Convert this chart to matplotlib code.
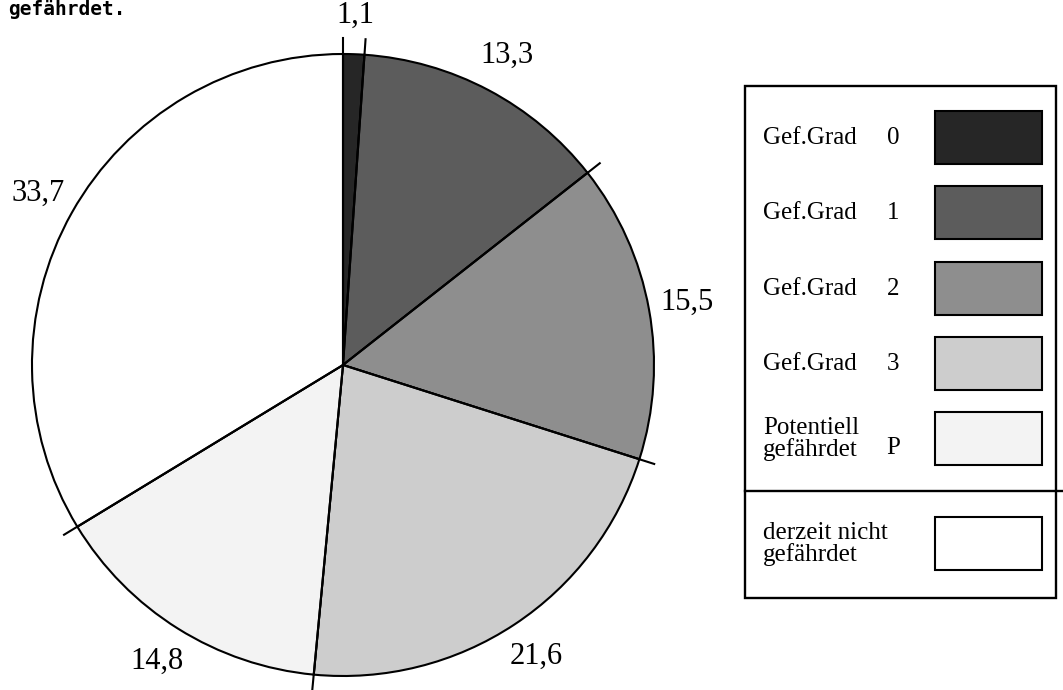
import matplotlib.pyplot as plt
from matplotlib.patches import Rectangle
import numpy as np

# shares in percent, clockwise from 12 o'clock
values = [1.1, 13.3, 15.5, 21.6, 14.8, 33.7]
value_labels = ['1,1', '13,3', '15,5', '21,6', '14,8', '33,7']
colors = ['#262626', '#5c5c5c', '#8e8e8e', '#cdcdcd', '#f3f3f3', '#ffffff']

legend_names = ['Gef.Grad', 'Gef.Grad', 'Gef.Grad', 'Gef.Grad',
                'Potentiell\ngefährdet', 'derzeit nicht\ngefährdet']
legend_codes = ['0', '1', '2', '3', 'P', '']

serif = ['Liberation Serif', 'DejaVu Serif']

fig = plt.figure(figsize=(10.63, 6.9), dpi=100)
ax = fig.add_axes([0, 0, 1, 1])

cx, cy, r = 343, 365, 311

# y axis points down, so data-CCW shows as clockwise
wedges, texts = ax.pie(values, colors=colors, labels=value_labels, center=(cx, cy), radius=r,
                       startangle=-90, counterclock=True, labeldistance=1.125,
                       wedgeprops={'edgecolor': 'black', 'linewidth': 1.5},
                       textprops={'fontsize': 22, 'family': serif})
for t in texts:
    t.set_ha('center')
    t.set_va('center')
ax.set_xlim(0, 1063)
ax.set_ylim(690, 0)
ax.set_aspect('equal')
ax.axis('off')

# boundary lines run a bit past the rim
cum = np.concatenate([[0], np.cumsum(values)])
for c in cum[:-1]:
    a = np.deg2rad(-90 + c * 3.6)
    ax.plot([cx, cx + 1.05 * r * np.cos(a)], [cy, cy + 1.05 * r * np.sin(a)],
            color='black', lw=1.5)

# legend box
ax.add_patch(Rectangle((745, 86), 311, 512, fill=False, edgecolor='black', lw=1.7))
ax.plot([745, 1062], [491, 491], color='black', lw=1.7)
sw_tops = [111, 186, 262, 337, 412, 517]
for i in range(len(legend_names)):
    ax.add_patch(Rectangle((935, sw_tops[i]), 107, 53, facecolor=colors[i],
                           edgecolor='black', lw=1.5))
    ax.text(763, sw_tops[i] + 27, legend_names[i], fontsize=18, family=serif,
            ha='left', va='center', linespacing=0.95)
    if legend_codes[i]:
        y = sw_tops[i] + 27 if '\n' not in legend_names[i] else sw_tops[i] + 36
        ax.text(893, y, legend_codes[i], fontsize=18, family=serif, ha='center', va='center')

ax.text(8, 15, 'gefährdet.', fontsize=14, family='DejaVu Sans Mono', fontweight='bold',
        ha='left', va='baseline')

fig.savefig('out.png', dpi=100)
